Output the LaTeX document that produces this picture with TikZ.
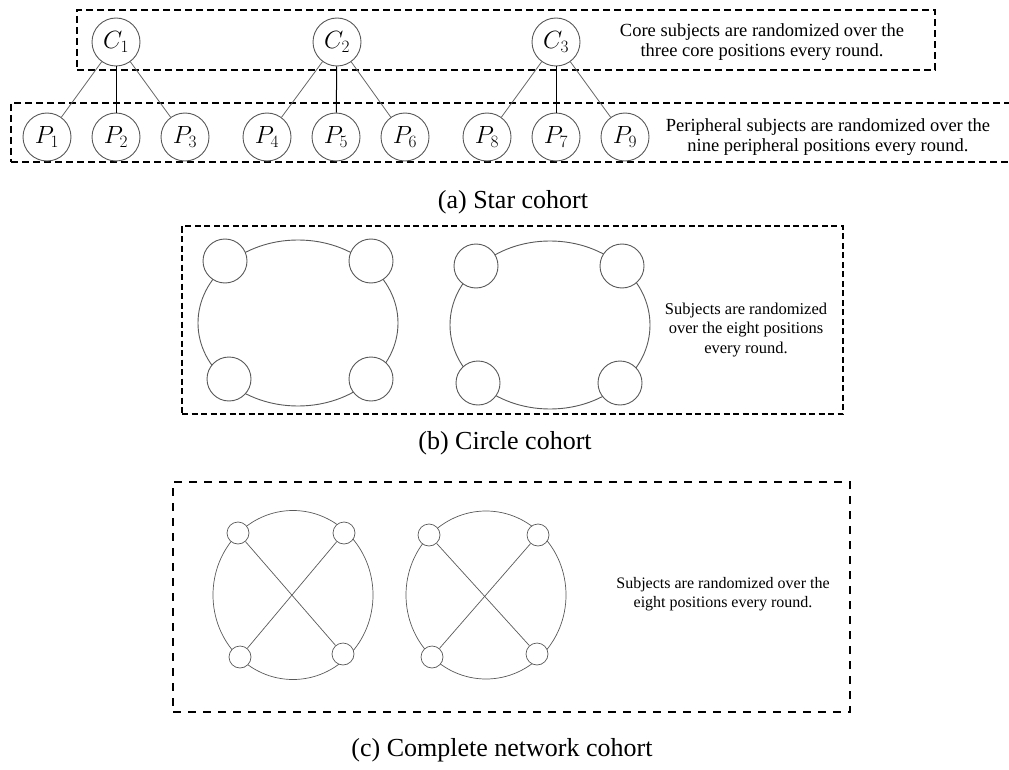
\documentclass[tikz,border=0pt]{standalone}
\usepackage{fontspec}
\setmainfont{Liberation Serif}
\usetikzlibrary{shapes.geometric}
\begin{document}
\begin{tikzpicture}[x=1pt,y=-1pt,
  cnode/.style={circle, draw=black!65, line width=0.9pt, minimum size=48pt, inner sep=0pt, fill=white, font=\fontsize{24}{24}\selectfont},
  conn/.style={draw=black!60, line width=0.8pt},
  vconn/.style={draw=black, line width=1pt},
  boxa/.style={draw=black, line width=2.2pt, dash pattern=on 7pt off 4pt},
  boxb/.style={draw=black, line width=1.8pt, dash pattern=on 6pt off 3.5pt},
  boxc/.style={draw=black, line width=1.8pt, dash pattern=on 8pt off 7pt},
  bigell/.style={ellipse, draw=black!65, line width=0.9pt, inner sep=0pt},
  bsm/.style={circle, draw=black!65, line width=0.9pt, fill=white, minimum size=44pt, inner sep=0pt},
  csm/.style={circle, draw=black!65, line width=0.7pt, fill=white, minimum size=22pt, inner sep=0pt},
  cline/.style={draw=black!65, line width=0.7pt},
  caption/.style={font=\fontsize{26}{26}\selectfont},
  note/.style={align=center}
]
\useasboundingbox (0,0) rectangle (1009,770);

% ---------- (a) Star cohort ----------
\node[boxa, minimum width=858pt, minimum height=60pt, inner sep=0pt] (topbox) at (506,40) {};
\node[boxa, minimum width=1004pt, minimum height=59pt, inner sep=0pt] (botbox) at (513,132.5) {};

\node[cnode] (C1) at (116,42) {$C_1$};
\node[cnode] (C2) at (337,42) {$C_2$};
\node[cnode] (C3) at (556,42) {$C_3$};

\node[cnode] (P1) at (47,137) {$P_1$};
\node[cnode] (P2) at (116,137) {$P_2$};
\node[cnode] (P3) at (185,137) {$P_3$};
\node[cnode] (P4) at (267,137) {$P_4$};
\node[cnode] (P5) at (336,137) {$P_5$};
\node[cnode] (P6) at (405,137) {$P_6$};
\node[cnode] (P8) at (487,137) {$P_8$};
\node[cnode] (P7) at (556,137) {$P_7$};
\node[cnode] (P9) at (625,137) {$P_9$};

\draw[conn] (C1) -- (P1);
\draw[vconn] (C1) -- (P2);
\draw[conn] (C1) -- (P3);
\draw[conn] (C2) -- (P4);
\draw[vconn] (C2) -- (P5);
\draw[conn] (C2) -- (P6);
\draw[conn] (C3) -- (P8);
\draw[vconn] (C3) -- (P7);
\draw[conn] (C3) -- (P9);

\node[note, font=\fontsize{18.5}{20}\selectfont] (coretext) at (762,42)
  {Core subjects are randomized over the\\three core positions every round.};
\node[note, font=\fontsize{18.5}{20}\selectfont] (pertext) at (828,137)
  {Peripheral subjects are randomized over the\\nine peripheral positions every round.};

\node[caption] (capa) at (513,202) {(a) Star cohort};

% ---------- (b) Circle cohort ----------
\node[boxb, minimum width=661pt, minimum height=188pt, inner sep=0pt] (bbox) at (512.5,320) {};

\node[bigell, minimum width=200pt, minimum height=166pt] (bL) at (298,323) {};
\node[bsm] (bL1) at (225,261) {};
\node[bsm] (bL2) at (371,261) {};
\node[bsm] (bL3) at (229,379) {};
\node[bsm] (bL4) at (371,379) {};

\node[bigell, minimum width=200pt, minimum height=168pt] (bR) at (550,325) {};
\node[bsm] (bR1) at (476,266) {};
\node[bsm] (bR2) at (622,266) {};
\node[bsm] (bR3) at (478,383) {};
\node[bsm] (bR4) at (620,383) {};

\node[note, font=\fontsize{16.5}{19.5}\selectfont] (btext) at (746,330)
  {Subjects are randomized\\over the eight positions\\every round.};

\node[caption] (capb) at (505,443) {(b) Circle cohort};

% ---------- (c) Complete network cohort ----------
\node[boxc, minimum width=677pt, minimum height=230pt, inner sep=0pt] (cbox) at (511.5,597) {};

\node[bigell, line width=0.7pt, minimum width=160pt, minimum height=169pt] (cL) at (293,595) {};
\node[csm] (cL1) at (238,533) {};
\node[csm] (cL2) at (344,533) {};
\node[csm] (cL3) at (240,657) {};
\node[csm] (cL4) at (343,654) {};
\draw[cline] (cL1) -- (cL4);
\draw[cline] (cL2) -- (cL3);

\node[bigell, line width=0.7pt, minimum width=160pt, minimum height=168pt] (cR) at (486,595) {};
\node[csm] (cR1) at (429,535) {};
\node[csm] (cR2) at (538,535) {};
\node[csm] (cR3) at (432,657) {};
\node[csm] (cR4) at (537,654) {};
\draw[cline] (cR1) -- (cR4);
\draw[cline] (cR2) -- (cR3);

\node[note, font=\fontsize{16}{19}\selectfont] (ctext) at (723,594.5)
  {Subjects are randomized over the\\eight positions every round.};

\node[caption] (capc) at (502,750) {(c) Complete network cohort};
\end{tikzpicture}
\end{document}
